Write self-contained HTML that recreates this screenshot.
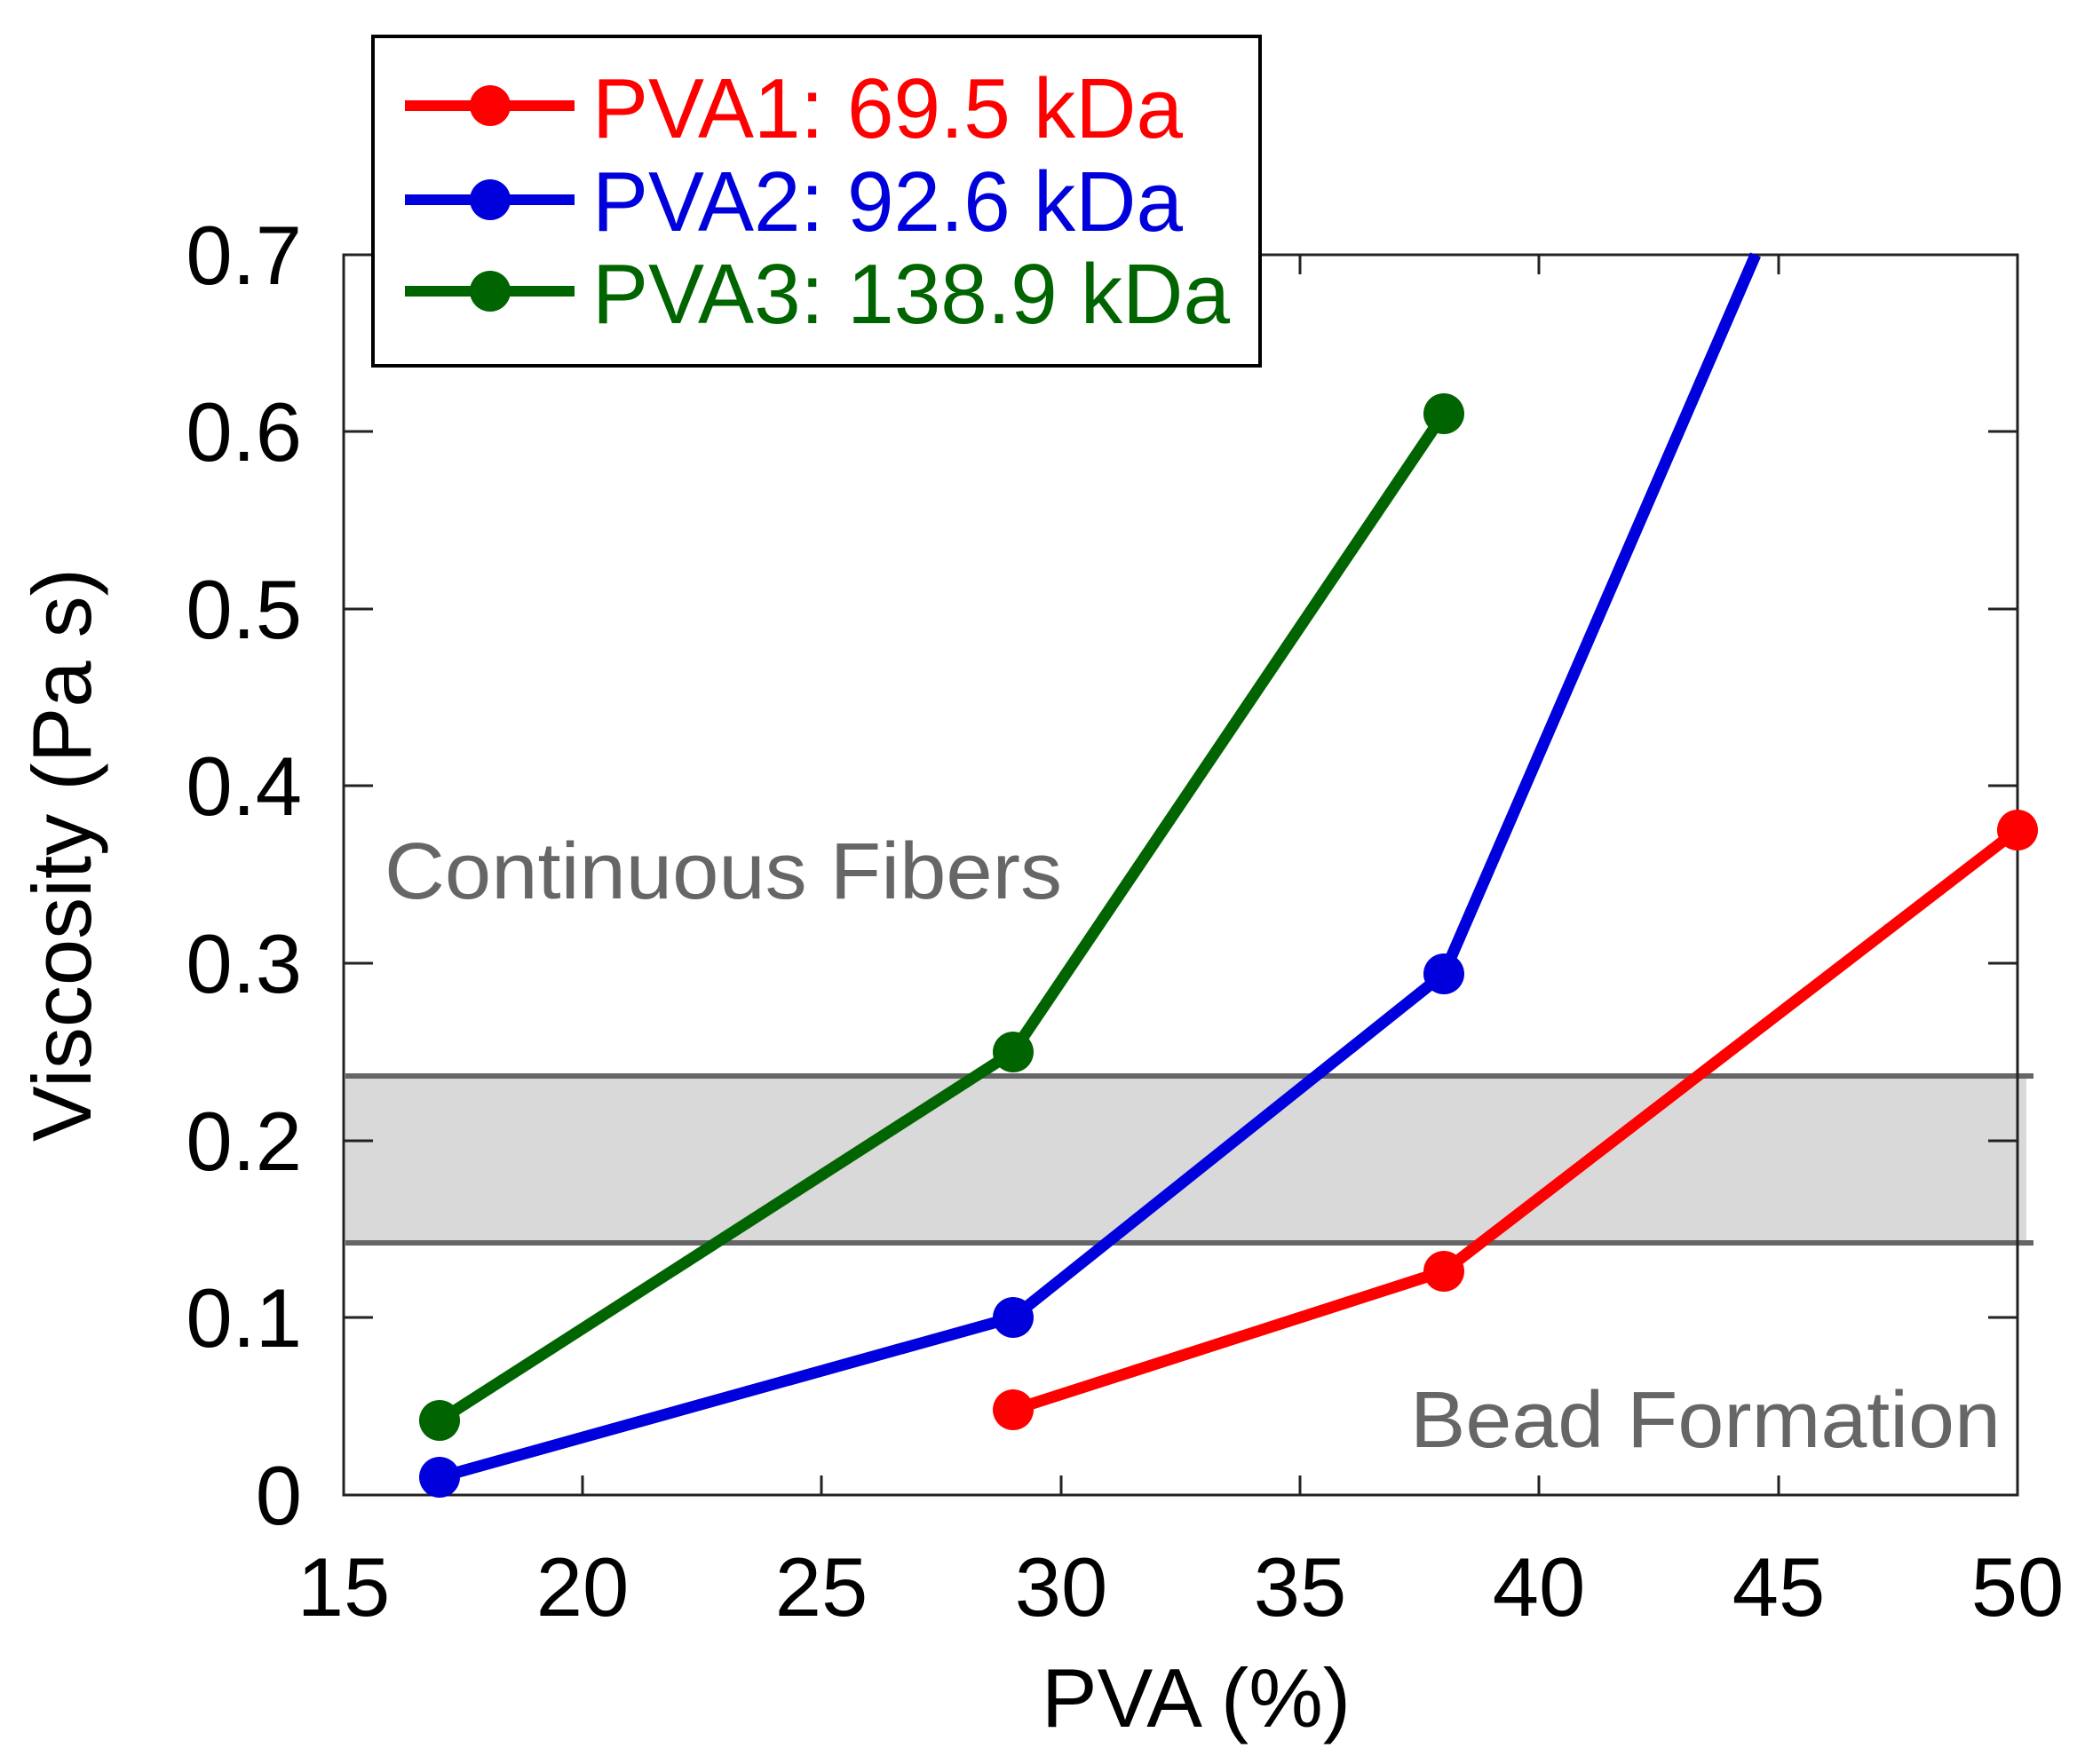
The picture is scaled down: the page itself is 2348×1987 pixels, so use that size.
<!DOCTYPE html>
<html><head><meta charset="utf-8"><style>html,body{margin:0;padding:0;background:#fff}svg{display:block}</style></head>
<body>
<svg width="2348" height="1987" viewBox="0 0 2348 1987" xmlns="http://www.w3.org/2000/svg" font-family="Liberation Sans, Arial, sans-serif">
<rect width="2348" height="1987" fill="#fff"/>
<rect x="389" y="1212" width="1893" height="188" fill="#d9d9d9"/>
<line x1="389" y1="1212" x2="2290" y2="1212" stroke="#666" stroke-width="6"/>
<line x1="389" y1="1400" x2="2290" y2="1400" stroke="#666" stroke-width="6"/>
<rect x="387" y="287" width="1885" height="1397" fill="none" stroke="#222" stroke-width="3"/>
<g stroke="#222" stroke-width="3">
<line x1="656" y1="1684" x2="656" y2="1662"/><line x1="925" y1="1684" x2="925" y2="1662"/><line x1="1195" y1="1684" x2="1195" y2="1662"/><line x1="1464" y1="1684" x2="1464" y2="1662"/><line x1="1733" y1="1684" x2="1733" y2="1662"/><line x1="2003" y1="1684" x2="2003" y2="1662"/>
<line x1="656" y1="287" x2="656" y2="309"/><line x1="925" y1="287" x2="925" y2="309"/><line x1="1195" y1="287" x2="1195" y2="309"/><line x1="1464" y1="287" x2="1464" y2="309"/><line x1="1733" y1="287" x2="1733" y2="309"/><line x1="2003" y1="287" x2="2003" y2="309"/>
<line x1="387" y1="1484" x2="420" y2="1484"/><line x1="387" y1="1285" x2="420" y2="1285"/><line x1="387" y1="1085" x2="420" y2="1085"/><line x1="387" y1="885" x2="420" y2="885"/><line x1="387" y1="686" x2="420" y2="686"/><line x1="387" y1="486" x2="420" y2="486"/>
<line x1="2272" y1="1484" x2="2239" y2="1484"/><line x1="2272" y1="1285" x2="2239" y2="1285"/><line x1="2272" y1="1085" x2="2239" y2="1085"/><line x1="2272" y1="885" x2="2239" y2="885"/><line x1="2272" y1="686" x2="2239" y2="686"/><line x1="2272" y1="486" x2="2239" y2="486"/>
</g>
<g font-size="94" fill="#000" text-anchor="middle">
<text x="387" y="1820">15</text><text x="656" y="1820">20</text><text x="925" y="1820">25</text><text x="1195" y="1820">30</text><text x="1464" y="1820">35</text><text x="1733" y="1820">40</text><text x="2003" y="1820">45</text><text x="2272" y="1820">50</text>
</g>
<g font-size="94" fill="#000" text-anchor="end">
<text x="340" y="1717">0</text><text x="340" y="1517">0.1</text><text x="340" y="1318">0.2</text><text x="340" y="1118">0.3</text><text x="340" y="918">0.4</text><text x="340" y="719">0.5</text><text x="340" y="519">0.6</text><text x="340" y="320">0.7</text>
</g>
<text x="1347" y="1945" font-size="94" text-anchor="middle">PVA (%)</text>
<text transform="translate(102,963) rotate(-90)" font-size="94" text-anchor="middle">Viscosity (Pa s)</text>
<text x="433" y="1012" font-size="90" fill="#666" textLength="763" lengthAdjust="spacingAndGlyphs">Continuous Fibers</text>
<text x="1588" y="1630" font-size="90" fill="#666" textLength="665" lengthAdjust="spacingAndGlyphs">Bead Formation</text>
<g stroke-width="13" fill="none" stroke-linejoin="round">
<polyline stroke="#006400" points="495,1600 1141,1185 1626,466"/>
<polyline stroke="#0000dd" points="495,1664 1141,1484 1626,1097 1977,287"/>
<polyline stroke="#ff0000" points="1141,1588 1626,1432 2272,935"/>
</g>
<g fill="#006400"><circle cx="495" cy="1600" r="23"/><circle cx="1141" cy="1185" r="23"/><circle cx="1626" cy="466" r="23"/></g>
<g fill="#0000dd"><circle cx="495" cy="1664" r="23"/><circle cx="1141" cy="1484" r="23"/><circle cx="1626" cy="1097" r="23"/></g>
<g fill="#ff0000"><circle cx="1141" cy="1588" r="23"/><circle cx="1626" cy="1432" r="23"/><circle cx="2272" cy="935" r="23"/></g>
<rect x="420" y="41" width="999" height="371" fill="#fff" stroke="#000" stroke-width="4"/>
<g stroke-width="12">
<line x1="456" y1="119" x2="647" y2="119" stroke="#ff0000"/>
<line x1="456" y1="225" x2="647" y2="225" stroke="#0000dd"/>
<line x1="456" y1="328" x2="647" y2="328" stroke="#006400"/>
</g>
<circle cx="552" cy="119" r="23" fill="#ff0000"/>
<circle cx="552" cy="225" r="23" fill="#0000dd"/>
<circle cx="552" cy="328" r="23" fill="#006400"/>
<g font-size="96">
<text x="667" y="155" fill="#ff0000" textLength="665" lengthAdjust="spacingAndGlyphs">PVA1: 69.5 kDa</text>
<text x="667" y="260" fill="#0000dd" textLength="665" lengthAdjust="spacingAndGlyphs">PVA2: 92.6 kDa</text>
<text x="667" y="364" fill="#006400" textLength="718" lengthAdjust="spacingAndGlyphs">PVA3: 138.9 kDa</text>
</g>
</svg>
</body></html>
